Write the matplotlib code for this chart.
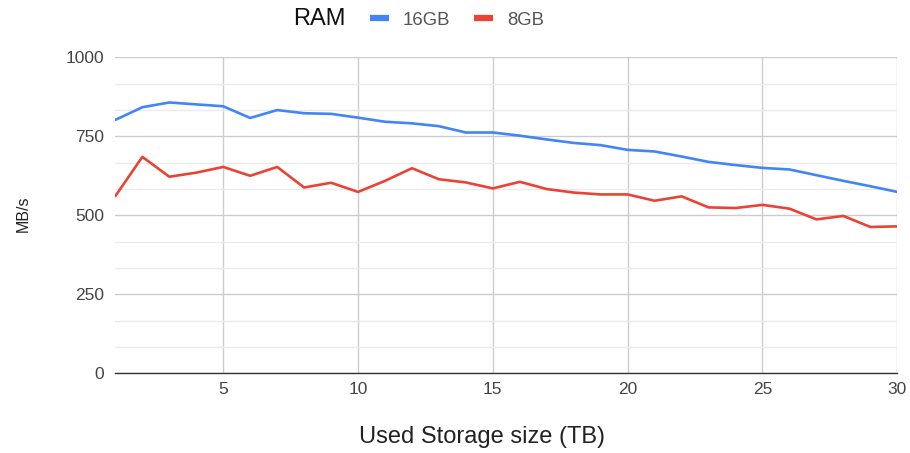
import matplotlib
matplotlib.use("Agg")
import matplotlib.pyplot as plt
from matplotlib.lines import Line2D
import numpy as np

plt.rcParams['font.family'] = ['Liberation Sans', 'DejaVu Sans']

storage_tb = list(range(1, 31))
ram_16gb = [802, 842, 857, 851, 845, 808, 833, 823, 821, 809,
            796, 791, 782, 762, 762, 752, 740, 729, 722, 707,
            702, 686, 669, 659, 650, 645, 627, 609, 592, 574]
ram_8gb = [561, 685, 622, 635, 653, 625, 653, 588, 603, 574,
           609, 649, 614, 604, 585, 606, 583, 572, 566, 566,
           546, 560, 525, 523, 533, 521, 487, 498, 463, 465]
series_names = ["16GB", "8GB"]
legend_title = "RAM"
y_ticks = [0, 250, 500, 750, 1000]
x_ticks = [5, 10, 15, 20, 25, 30]

BLUE = "#4285F4"
RED = "#EA4335"

fig = plt.figure(figsize=(9.10, 4.53), dpi=100)
ax = fig.add_axes([115.4/910, 1-373.3/453, (897.3-115.4)/910, (373.3-57.3)/453])

ax.plot(storage_tb, ram_16gb, color=BLUE, lw=1.9, solid_capstyle='round', zorder=3)
ax.plot(storage_tb, ram_8gb, color=RED, lw=1.9, solid_capstyle='round', zorder=3)

ax.set_xlim(1, 30)
ax.set_ylim(0, 1000)
ax.set_yticks(y_ticks)
ax.set_yticks(np.arange(0, 1001, 1000/12), minor=True)
ax.set_xticks(x_ticks)

ax.grid(True, which='major', axis='both', color='#cccccc', lw=1.0, zorder=0)
ax.grid(True, which='minor', axis='y', color='#ebebeb', lw=1.0, zorder=0)
ax.set_axisbelow(True)

for s in ['top', 'right', 'left']:
    ax.spines[s].set_visible(False)
ax.spines['bottom'].set_color('#333333')
ax.spines['bottom'].set_linewidth(1.0)

ax.tick_params(axis='both', which='both', length=0, labelsize=12.5, labelcolor='#444444')
ax.tick_params(axis='y', pad=8)
ax.tick_params(axis='x', pad=6)

fig.text(482/910, 1-437/453, "Used Storage size (TB)", fontsize=17, color='#222222',
         ha='center', va='center')
fig.text(23.5/910, 1-214/453, "MB/s", fontsize=11.5, color='#222222',
         ha='center', va='center', rotation=90)

fig.text(293/910, 1-19/453, legend_title, fontsize=17, color='#111111', va='center', ha='left')
handles = [Line2D([], [], color=BLUE, lw=4.5, solid_capstyle='butt'),
           Line2D([], [], color=RED, lw=4.5, solid_capstyle='butt')]
leg = fig.legend(handles, series_names, loc='center left', bbox_to_anchor=(370/910, 1-20/453),
                 ncol=2, frameon=False, fontsize=13.4, handlelength=1.0, handletextpad=0.75,
                 columnspacing=1.3, borderpad=0, borderaxespad=0)
for t in leg.get_texts():
    t.set_color('#555555')

fig.savefig("out.png", dpi=100)
